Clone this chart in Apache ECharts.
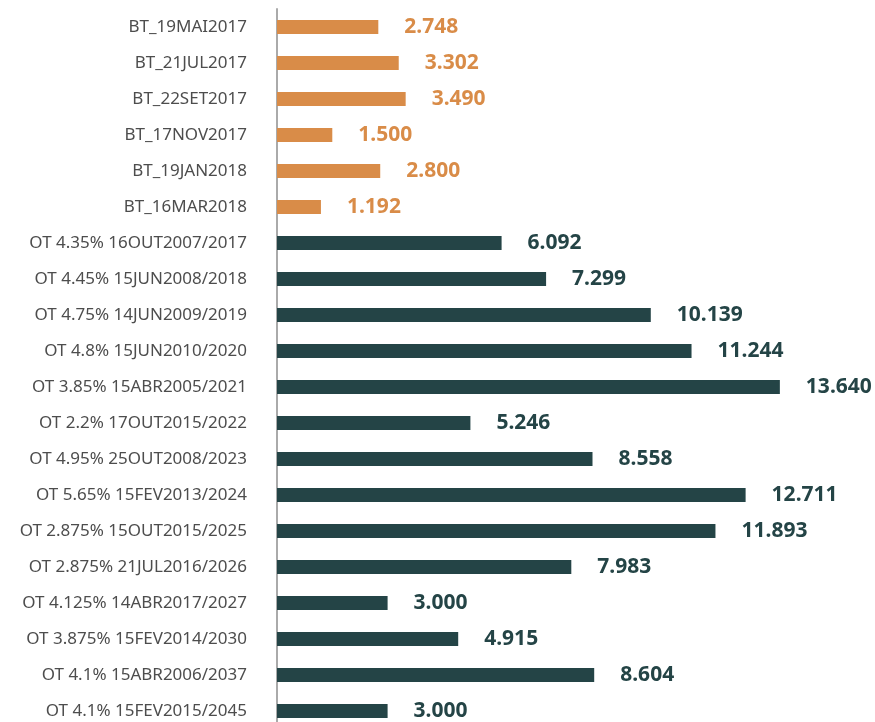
<!DOCTYPE html>
<html>
<head>
<meta charset="utf-8">
<script src="https://cdn.jsdelivr.net/npm/echarts@6/dist/echarts.min.js"></script>
<style>
  html, body { margin: 0; padding: 0; background: #fff; }
  #chart { width: 875px; height: 722px; }
</style>
</head>
<body>
<div id="chart"></div>
<script>
// categories top to bottom
const categories = [
  'BT_19MAI2017', 'BT_21JUL2017', 'BT_22SET2017', 'BT_17NOV2017', 'BT_19JAN2018', 'BT_16MAR2018',
  'OT 4.35% 16OUT2007/2017', 'OT 4.45% 15JUN2008/2018', 'OT 4.75% 14JUN2009/2019',
  'OT 4.8% 15JUN2010/2020', 'OT 3.85% 15ABR2005/2021', 'OT 2.2% 17OUT2015/2022',
  'OT 4.95% 25OUT2008/2023', 'OT 5.65% 15FEV2013/2024', 'OT 2.875% 15OUT2015/2025',
  'OT 2.875% 21JUL2016/2026', 'OT 4.125% 14ABR2017/2027', 'OT 3.875% 15FEV2014/2030',
  'OT 4.1% 15ABR2006/2037', 'OT 4.1% 15FEV2015/2045'
];
const values = [
  2.748, 3.302, 3.490, 1.500, 2.800, 1.192,
  6.092, 7.299, 10.139, 11.244, 13.640, 5.246,
  8.558, 12.711, 11.893, 7.983, 3.000, 4.915, 8.604, 3.000
];
const btCount = 6;

const orange = '#D98C48';
const teal = '#244446';

const chart = echarts.init(document.getElementById('chart'));

const data = values.map(function (v, i) {
  const c = i < btCount ? orange : teal;
  return {
    value: v,
    itemStyle: { color: c },
    label: { color: c }
  };
});

chart.setOption({
  animation: false,
  grid: { left: 277, top: 9, width: 553, height: 720, outerBoundsMode: 'none' },
  xAxis: {
    type: 'value',
    min: 0,
    max: 15,
    show: false
  },
  yAxis: {
    type: 'category',
    inverse: true,
    data: categories,
    axisLine: { show: true, lineStyle: { color: '#aaaaaa', width: 2 } },
    axisTick: { show: false },
    axisLabel: {
      margin: 30,
      color: '#4d4d4d',
      fontSize: 17,
      fontFamily: 'Noto Sans'
    }
  },
  series: [{
    type: 'bar',
    barWidth: 14,
    data: data,
    label: {
      show: true,
      position: 'right',
      distance: 26,
      fontSize: 21,
      fontWeight: 'bold',
      fontFamily: 'Noto Sans',
      formatter: function (p) { return p.value.toFixed(3); }
    }
  }]
});
</script>
</body>
</html>
